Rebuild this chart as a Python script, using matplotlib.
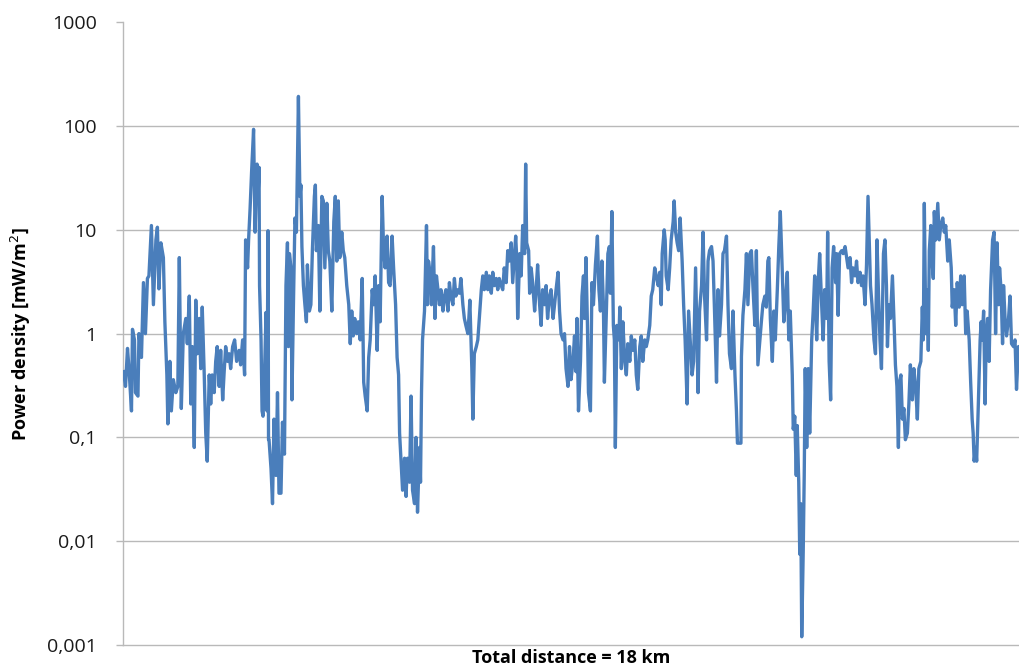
"""
Power density along an 18 km track, log scale (Excel-style line chart).
"""
import numpy as np
import matplotlib
matplotlib.use("Agg")
import matplotlib.pyplot as plt
from matplotlib.ticker import FixedLocator, FixedFormatter, NullLocator


# ── distance along track (km) and power density (mW/m²) ─────────────
DIST_KM = [
    # 0 - 2.9 km
    0.01, 0.05, 0.09, 0.12, 0.17, 0.19, 0.23, 0.25, 0.30, 0.32, 0.37, 0.41,
    0.45, 0.49, 0.52, 0.57, 0.61, 0.66, 0.69, 0.72, 0.76, 0.81, 0.84, 0.88,
    0.90, 0.94, 0.97, 1.01, 1.06, 1.10, 1.13, 1.15, 1.17, 1.21, 1.26, 1.29,
    1.33, 1.36, 1.39, 1.43, 1.46, 1.49, 1.53, 1.56, 1.59, 1.63, 1.66, 1.69,
    1.73, 1.76, 1.79, 1.83, 1.86, 1.89, 1.93, 1.96, 2.00, 2.03, 2.06, 2.10,
    2.13, 2.16, 2.20, 2.24, 2.28, 2.33, 2.36, 2.40, 2.44, 2.46, 2.50, 2.52,
    2.55, 2.58, 2.62, 2.65, 2.69, 2.71, 2.73, 2.74, 2.77, 2.79, 2.81, 2.83,
    2.87, 2.89, 2.91, 2.92,
    # 2.9 - 5.9 km
    2.93, 2.97, 3.00, 3.03, 3.07, 3.10, 3.13, 3.17, 3.20, 3.24, 3.27, 3.30,
    3.32, 3.34, 3.37, 3.39, 3.42, 3.45, 3.48, 3.52, 3.55, 3.57, 3.59, 3.62,
    3.65, 3.68, 3.70, 3.74, 3.77, 3.80, 3.84, 3.86, 3.88, 3.92, 3.95, 3.99,
    4.02, 4.05, 4.09, 4.12, 4.15, 4.19, 4.23, 4.26, 4.29, 4.32, 4.35, 4.39,
    4.42, 4.45, 4.49, 4.53, 4.56, 4.59, 4.62, 4.65, 4.69, 4.72, 4.76, 4.80,
    4.83, 4.86, 4.90, 4.93, 4.96, 5.00, 5.03, 5.06, 5.10, 5.13, 5.16, 5.20,
    5.23, 5.26, 5.30, 5.33, 5.36, 5.40, 5.43, 5.47, 5.50, 5.53, 5.55, 5.58,
    5.61, 5.65, 5.68, 5.71, 5.75, 5.78, 5.81, 5.85, 5.88, 5.91,
    # 5.9 - 8.9 km
    5.95, 5.97, 5.99, 6.01, 6.05, 6.09, 6.11, 6.13, 6.17, 6.19, 6.21, 6.23,
    6.26, 6.29, 6.32, 6.35, 6.38, 6.42, 6.45, 6.48, 6.52, 6.55, 6.58, 6.62,
    6.65, 6.68, 6.72, 6.75, 6.78, 6.82, 6.85, 6.88, 6.92, 6.94, 6.96, 7.00,
    7.02, 7.05, 7.09, 7.12, 7.15, 7.19, 7.22, 7.25, 7.29, 7.32, 7.35, 7.39,
    7.42, 7.45, 7.49, 7.52, 7.55, 7.59, 7.62, 7.65, 7.69, 7.72, 7.75, 7.79,
    7.82, 7.86, 7.88, 7.90, 7.92, 7.96, 7.99, 8.02, 8.06, 8.08, 8.10, 8.14,
    8.16, 8.19, 8.22, 8.26, 8.29, 8.32, 8.36, 8.39, 8.42, 8.46, 8.49, 8.52,
    8.56, 8.59, 8.63, 8.66, 8.69, 8.73, 8.76, 8.79, 8.83, 8.86, 8.89, 8.93,
    # 8.9 - 11.9 km
    8.96, 8.99, 9.03, 9.06, 9.09, 9.11, 9.14, 9.18, 9.21, 9.24, 9.26, 9.29,
    9.32, 9.34, 9.38, 9.41, 9.44, 9.48, 9.52, 9.55, 9.58, 9.61, 9.64, 9.66,
    9.70, 9.73, 9.76, 9.78, 9.81, 9.84, 9.86, 9.88, 9.91, 9.95, 9.97, 10.00,
    10.03, 10.07, 10.10, 10.13, 10.17, 10.20, 10.23, 10.27, 10.30, 10.33,
    10.37, 10.40, 10.43, 10.47, 10.50, 10.53, 10.57, 10.60, 10.63, 10.67,
    10.70, 10.74, 10.77, 10.80, 10.82, 10.86, 10.88, 10.90, 10.94, 10.97,
    11.00, 11.04, 11.06, 11.09, 11.12, 11.15, 11.18, 11.22, 11.25, 11.28,
    11.32, 11.35, 11.39, 11.42, 11.45, 11.49, 11.52, 11.54, 11.57, 11.61,
    11.64, 11.67, 11.71, 11.74, 11.77, 11.81, 11.84, 11.87, 11.91, 11.94,
    # 11.9 - 15.0 km
    11.97, 12.01, 12.04, 12.07, 12.11, 12.14, 12.17, 12.21, 12.24, 12.28,
    12.31, 12.33, 12.37, 12.40, 12.41, 12.44, 12.48, 12.51, 12.54, 12.58,
    12.61, 12.64, 12.68, 12.71, 12.74, 12.78, 12.81, 12.84, 12.88, 12.91,
    12.94, 12.96, 12.99, 13.03, 13.06, 13.09, 13.13, 13.16, 13.19, 13.23,
    13.26, 13.29, 13.33, 13.36, 13.39, 13.43, 13.45, 13.48, 13.51, 13.53,
    13.56, 13.58, 13.60, 13.62, 13.65, 13.67, 13.69, 13.72, 13.75, 13.78,
    13.82, 13.85, 13.88, 13.92, 13.95, 13.98, 14.02, 14.05, 14.08, 14.12,
    14.14, 14.17, 14.20, 14.23, 14.26, 14.30, 14.32, 14.35, 14.38, 14.42,
    14.45, 14.49, 14.52, 14.55, 14.59, 14.62, 14.65, 14.69, 14.72, 14.75,
    14.79, 14.82, 14.85, 14.89, 14.92, 14.95,
    # 15.0 - 18 km
    15.00, 15.03, 15.07, 15.10, 15.13, 15.16, 15.19, 15.22, 15.26, 15.29,
    15.32, 15.34, 15.37, 15.40, 15.44, 15.47, 15.50, 15.53, 15.56, 15.58,
    15.61, 15.64, 15.67, 15.70, 15.74, 15.77, 15.80, 15.84, 15.87, 15.91,
    15.94, 15.97, 16.01, 16.04, 16.06, 16.08, 16.11, 16.14, 16.16, 16.18,
    16.21, 16.23, 16.26, 16.28, 16.31, 16.35, 16.38, 16.41, 16.45, 16.48,
    16.51, 16.55, 16.58, 16.62, 16.64, 16.68, 16.71, 16.74, 16.78, 16.81,
    16.84, 16.88, 16.91, 16.94, 16.98, 17.01, 17.04, 17.06, 17.08, 17.11,
    17.13, 17.16, 17.20, 17.22, 17.24, 17.27, 17.30, 17.32, 17.35, 17.38,
    17.41, 17.45, 17.48, 17.51, 17.54, 17.57, 17.59, 17.62, 17.65, 17.67,
    17.70, 17.73, 17.77, 17.80, 17.83, 17.87, 17.90, 17.93, 17.97, 18.00,
]

POWER = [
    # 0 - 2.9 km
    0.43, 0.31, 0.72, 0.46, 0.18, 1.1, 0.87, 0.27, 0.25, 1.0, 0.59, 3.1,
    1.0, 3.4, 3.6, 11, 1.9, 8, 10.6, 2.7, 7.5, 5.4, 1.3, 0.4,
    0.135, 0.54, 0.18, 0.36, 0.27, 0.31, 5.4, 0.87, 0.19, 1.0, 1.4, 0.8,
    2.3, 0.21, 0.75, 0.08, 2.1, 0.64, 1.4, 0.46, 1.8, 0.4, 0.11, 0.059,
    0.4, 0.21, 0.4, 0.27, 0.54, 0.75, 0.31, 0.69, 0.23, 0.43, 0.75, 0.54,
    0.64, 0.46, 0.75, 0.87, 0.54, 0.69, 0.5, 0.87, 0.4, 8, 4.3, 8,
    16, 36, 93, 9.5, 43, 21, 40, 2.9, 0.87, 0.18, 0.16, 0.27,
    1.6, 0.18, 9.8, 0.095,
    # 2.9 - 5.9 km
    0.095, 0.05, 0.023, 0.15, 0.043, 0.27, 0.029, 0.029, 0.14, 0.069, 2.9, 7.5,
    0.75, 5.9, 4.3, 0.23, 1.9, 13, 9.5, 193, 21, 27, 6.9, 2.9,
    1.9, 1.3, 4.6, 1.65, 1.9, 6.3, 21, 27, 6.3, 11, 1.65, 21,
    19, 4.3, 18, 6.3, 5, 1.65, 12, 21, 5, 19, 5.4, 9.5,
    6.3, 5.4, 2.9, 1.9, 0.8, 1.65, 0.95, 1.4, 1.0, 1.3, 0.87, 3.4,
    0.34, 0.25, 0.18, 0.59, 0.87, 2.65, 1.9, 3.6, 0.69, 2.9, 1.3, 21,
    6.3, 4.3, 8.7, 3.1, 2.9, 8.7, 4.3, 1.9, 0.59, 0.4, 0.11, 0.059,
    0.031, 0.063, 0.027, 0.063, 0.037, 0.25, 0.031, 0.023, 0.1, 0.019,
    # 5.9 - 8.9 km
    0.08, 0.037, 0.27, 0.87, 1.65, 11, 1.9, 5, 3.6, 1.9, 3.9, 6.9,
    1.4, 3.6, 2.65, 1.9, 2.65, 1.65, 2.3, 2.65, 1.65, 3.1, 2.3, 1.9,
    3.4, 2.3, 2.65, 2.45, 3.4, 1.9, 1.4, 1.2, 1.0, 1.4, 2.1, 0.46,
    0.15, 0.64, 0.75, 0.87, 1.4, 2.65, 3.6, 2.65, 3.9, 2.65, 3.6, 2.45,
    3.9, 2.9, 3.4, 2.65, 3.4, 2.9, 2.65, 4.3, 3.1, 6.3, 5, 7.5,
    3.1, 6.3, 8.7, 5.4, 1.4, 5.9, 3.6, 11, 5.9, 43, 7.5, 6.3,
    2.45, 4.3, 3.1, 1.65, 2.65, 4.6, 1.9, 1.2, 2.65, 1.9, 2.9, 1.4,
    2.3, 2.65, 1.4, 1.9, 2.65, 3.9, 1.65, 1.0, 0.87, 1.0, 0.46, 0.31,
    # 8.9 - 11.9 km
    0.75, 0.36, 0.54, 0.95, 0.43, 1.4, 0.18, 0.54, 2.3, 3.6, 1.4, 5.4,
    1.2, 0.27, 0.18, 3.1, 1.9, 4.6, 8.7, 2.65, 1.65, 5, 1.9, 0.34,
    1.65, 5.9, 6.9, 2.45, 15, 1.2, 0.87, 0.08, 1.2, 0.87, 1.8, 0.46,
    1.3, 0.54, 0.4, 0.8, 0.54, 0.95, 0.69, 0.87, 0.4, 0.29,
    0.75, 0.95, 0.54, 0.87, 0.75, 0.87, 1.2, 2.3, 2.65, 4.3,
    3.6, 2.9, 3.9, 1.9, 5.9, 10, 8, 3.6, 2.65, 4.3,
    8, 12, 19, 9.5, 7.5, 6.3, 13, 5, 1.9, 0.87,
    0.21, 1.65, 0.75, 0.4, 0.54, 4.3, 0.87, 0.27, 1.65, 2.9,
    9.5, 2.3, 0.87, 5, 6.3, 6.9, 5, 1.65, 0.34, 2.65,
    # 11.9 - 15.0 km
    0.95, 1.9, 5.9, 6.3, 8.7, 1.9, 0.64, 0.46, 1.65, 0.4,
    0.18, 0.088, 0.088, 0.088, 0.6, 1.5, 2.65, 5.9, 1.9, 5.9,
    6.3, 2.9, 1.2, 6.3, 0.5, 0.87, 1.3, 1.9, 2.3, 1.8,
    5, 5.4, 1.4, 0.54, 1.65, 0.87, 2.65, 6.9, 15, 3.9,
    1.3, 1.9, 3.9, 0.87, 1.65, 0.4, 0.12, 0.16, 0.043, 0.13,
    0.037, 0.0075, 0.023, 0.0012, 0.0081, 0.043, 0.46, 0.08, 0.46, 0.11,
    0.87, 1.65, 3.6, 0.87, 3.1, 5.9, 1.9, 0.87, 2.65, 1.4,
    9.5, 0.54, 0.23, 4.3, 6.9, 3.1, 5.9, 1.5, 5.9, 6.3,
    5.9, 6.9, 5.4, 4.3, 5.4, 3.1, 4.3, 3.6, 5, 3.1,
    3.9, 2.9, 3.6, 1.9, 4.6, 21,
    # 15.0 - 18 km
    2.9, 1.9, 0.87, 0.64, 8, 2.45, 0.87, 0.46, 5.9, 8,
    2.9, 0.75, 1.9, 1.4, 3.6, 1.4, 0.5, 0.31, 0.08, 0.34,
    0.4, 0.15, 0.19, 0.095, 0.11, 0.21, 0.5, 0.23, 0.46, 0.29,
    0.15, 0.46, 0.54, 1.8, 0.87, 18, 1.0, 2.65, 0.69, 6.3,
    11, 5.4, 3.4, 15, 8, 18, 8, 11, 13, 9.5,
    11, 5, 8, 4.3, 1.8, 2.65, 1.2, 3.1, 1.8, 3.6,
    1.9, 3.6, 1.0, 1.65, 0.87, 0.34, 0.15, 0.11, 0.059, 0.08,
    0.059, 0.18, 0.87, 1.3, 0.87, 1.65, 0.21, 0.87, 1.4, 0.54,
    2.65, 8, 9.5, 1.0, 7.5, 1.9, 4.3, 2.65, 0.8, 2.9,
    1.4, 0.95, 1.4, 2.3, 0.8, 0.75, 0.87, 0.29, 0.75, 0.75,
]

Y_TICKS = [0.001, 0.01, 0.1, 1, 10, 100, 1000]
Y_TICK_LABELS = ["0,001", "0,01", "0,1", "1", "10", "100", "1000"]


def main():
    fig = plt.figure(figsize=(10.2, 6.71), dpi=100)
    ax = fig.add_axes([0.1206, 0.0388, 0.8794, 0.928])

    ax.plot(DIST_KM, POWER, color="#4a7ebb", lw=2.4, zorder=3)

    ax.set_yscale("log")
    ax.set_ylim(0.001, 1000)
    ax.set_xlim(0, 18)

    ax.yaxis.set_major_locator(FixedLocator(Y_TICKS))
    ax.yaxis.set_major_formatter(FixedFormatter(Y_TICK_LABELS))
    ax.yaxis.set_minor_locator(NullLocator())
    ax.xaxis.set_major_locator(NullLocator())
    ax.xaxis.set_minor_locator(NullLocator())

    # horizontal gridlines at decades (not at the top)
    for v in Y_TICKS[1:-1]:
        ax.axhline(v, color="#b9b9b9", lw=1.0, zorder=1)

    for s in ["top", "right"]:
        ax.spines[s].set_visible(False)
    for s in ["left", "bottom"]:
        ax.spines[s].set_color("#b9b9b9")
        ax.spines[s].set_linewidth(1.0)

    ax.tick_params(axis="y", length=5, width=1.0, color="#b9b9b9",
                   labelsize=14, pad=14, labelcolor="#1a1a1a")
    for lbl in ax.get_yticklabels():
        lbl.set_family("Open Sans")

    ax.set_ylabel("Power density [mW/m$^2$]", fontsize=13, fontweight="bold",
                  family="Open Sans", labelpad=10)
    ax.set_xlabel("Total distance = 18 km", fontsize=13, fontweight="bold",
                  family="Open Sans", labelpad=3)

    fig.savefig("out.png", dpi=100)


if __name__ == "__main__":
    main()
